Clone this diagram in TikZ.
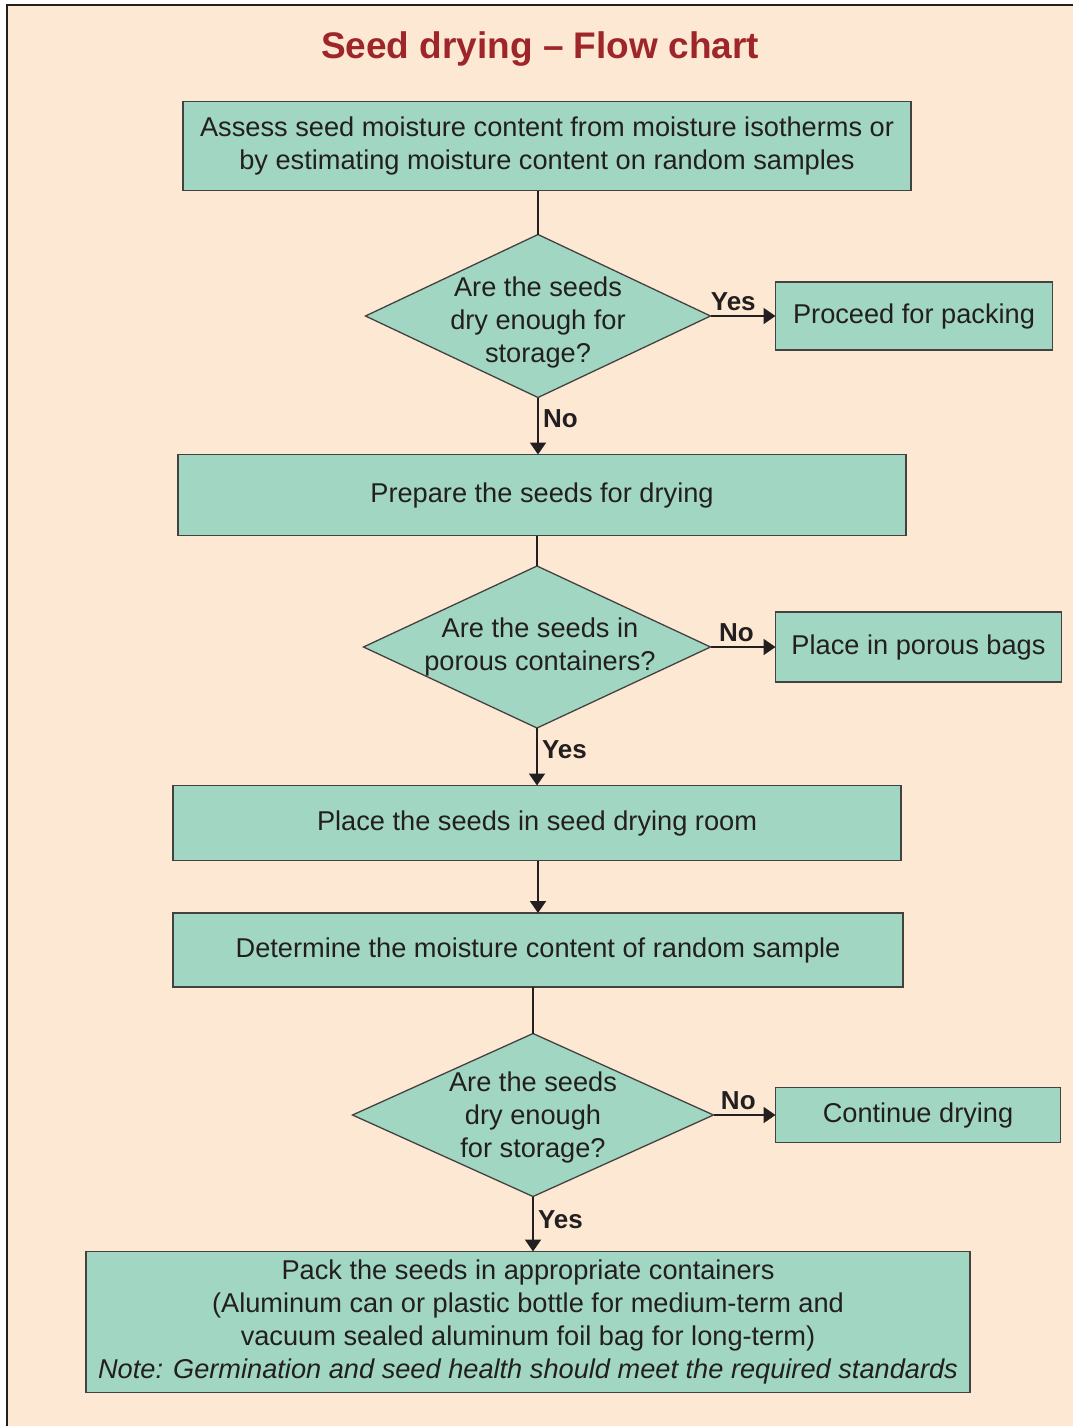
\documentclass[tikz,border=0pt]{standalone}
\usepackage{fontspec}
\setmainfont{Liberation Sans}
\usetikzlibrary{arrows.meta,positioning,shapes.geometric}
\definecolor{paper}{RGB}{253,233,211}
\definecolor{boxfill}{RGB}{161,214,195}
\definecolor{titlered}{RGB}{158,38,42}
\definecolor{ink}{RGB}{35,31,32}
% text of a decision, set a little below the middle of the diamond
\newcommand{\asktext}[2][0pt]{\raisebox{-#1}[\height][\depth]{%
  \begin{tabular}{@{}c@{}}#2\end{tabular}}}
\tikzset{%
  >={Triangle[width=16pt,length=12pt]},
  % Specifications for style of nodes:
        base/.style = {draw=ink!85, line width=1.3pt, fill=boxfill,
                       inner sep=0pt, outer sep=0pt, text=ink, align=center,
                       font=\fontsize{27.2}{33}\selectfont},
     process/.style = {base, rectangle},
    decision/.style = {base, diamond, inner sep=-8pt, aspect=2.1},
      answer/.style = {text=ink, inner sep=4pt,
                       font=\fontsize{26}{30}\selectfont\bfseries},
        flow/.style = {draw=ink, line width=2pt},
}

\begin{document}
\begin{tikzpicture}[x=1pt, y=-1pt]
  \useasboundingbox (0,0) rectangle (1073,1426);
  % Background and frame
  \fill[white] (0,0) rectangle (1073,1426);
  \fill[paper] (7,5) rectangle (1073,1426);
  \draw[ink, line width=2.5pt] (7,1426) -- (7,5) -- (1073,5);
  \node (title) at (540,49) [font=\fontsize{37}{40}\selectfont\bfseries,
                             text=titlered] {Seed drying – Flow chart};
  % Specification of nodes (position, etc.)
  \node (assess)   at (547,146)  [process, minimum width=728pt, minimum height=89pt]
        {Assess seed moisture content from moisture isotherms or\\
         by estimating moisture content on random samples};
  \node (dry1)     at (538,316)  [decision, minimum width=345pt, minimum height=163pt]
        {\asktext[7pt]{Are the seeds\\dry enough for\\storage?}};
  \node (packing)  [process, right=65pt of dry1, minimum width=277pt, minimum height=68pt]
        {Proceed for packing};
  \node (prepare)  at (542,495)  [process, minimum width=728pt, minimum height=81pt]
        {Prepare the seeds for drying};
  \node (porous)   at (537,647)  [decision, minimum width=347pt, minimum height=162pt]
        {\asktext{\hspace*{6pt}Are the seeds in\\\hspace*{6pt}porous containers?}};
  \node (bags)     [process, right=65pt of porous, minimum width=286pt, minimum height=70pt]
        {Place in porous bags};
  \node (room)     at (537,823)  [process, minimum width=728pt, minimum height=75pt]
        {Place the seeds in seed drying room};
  \node (sample)   at (538,950)  [process, minimum width=730pt, minimum height=74pt]
        {Determine the moisture content of random sample};
  \node (dry2)     at (533,1115) [decision, minimum width=361pt, minimum height=163pt]
        {\asktext[3pt]{Are the seeds\\dry enough\\for storage?}};
  \node (continue) [process, right=62pt of dry2, minimum width=285pt, minimum height=55pt]
        {Continue drying};
  \node (pack)     at (528,1322) [process, minimum width=884pt, minimum height=141pt]
        {Pack the seeds in appropriate containers\\
         (Aluminum can or plastic bottle for medium-term and\\
         vacuum sealed aluminum foil bag for long-term)\\
         \textit{Note: Germination and seed health should meet the required standards}};
  % Specification of lines between nodes specified above
  % with aditional nodes for the answers
  \draw[flow]    (assess.south -| dry1.north) -- (dry1.north);
  \draw[flow,->] (dry1.east) -- node[answer, above, pos=0.35] (yes1) {Yes} (packing.west);
  \draw[flow,->] (dry1.south) -- node[answer, right, pos=0.38] (no1) {No}
                 (dry1.south |- prepare.north);
  \draw[flow]    (prepare.south -| porous.north) -- (porous.north);
  \draw[flow,->] (porous.east) -- node[answer, above, pos=0.4] (no2) {No} (bags.west);
  \draw[flow,->] (porous.south) -- node[answer, right, pos=0.38] (yes2) {Yes}
                 (porous.south |- room.north);
  \draw[flow,->] (room.south -| sample.north) -- (sample.north);
  \draw[flow]    (sample.south -| dry2.north) -- (dry2.north);
  \draw[flow,->] (dry2.east) -- node[answer, above, pos=0.4] (no3) {No} (continue.west);
  \draw[flow,->] (dry2.south) -- node[answer, right, pos=0.42] (yes3) {Yes}
                 (dry2.south |- pack.north);
\end{tikzpicture}
\end{document}
